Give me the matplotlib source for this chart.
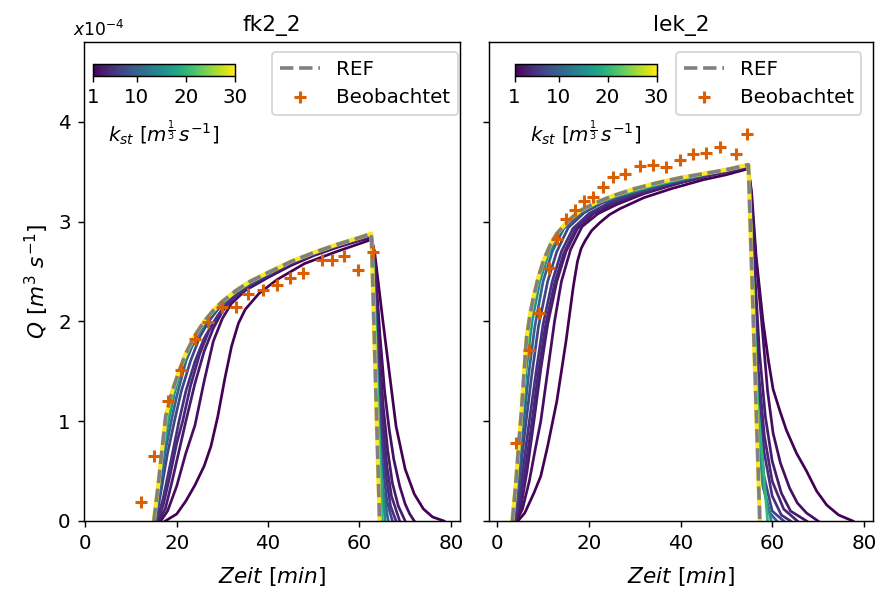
import matplotlib
matplotlib.use("Agg")
import matplotlib.pyplot as plt
from matplotlib import colors, cm

# ---- fk2_2: simulated hydrographs (Q in 1e-4 m3/s) ----
FK_REF_T = [15.0, 16.0, 17.0, 17.6, 19.0, 20.5, 22.0, 24.0, 26.0, 28.0, 30.0, 33.0, 36.0, 40.0, 45.0, 50.0, 55.0, 60.0, 62.6, 64.4]
FK_REF_Q = [0, 0.38, 0.8, 1.05, 1.3, 1.5, 1.68, 1.86, 2.0, 2.11, 2.2, 2.31, 2.4, 2.49, 2.6, 2.69, 2.77, 2.84, 2.88, 0]

FK_K1_T = [17.5, 20, 22, 24, 26, 27.5, 29, 30.5, 32, 33.5, 35, 38, 42, 48, 55, 62.6, 63.3, 65, 66.5, 68, 70, 72, 74, 76, 78.5]
FK_K1_Q = [0, 0.07, 0.2, 0.36, 0.55, 0.75, 1.05, 1.42, 1.75, 1.98, 2.12, 2.28, 2.42, 2.58, 2.7, 2.82, 2.7, 2.05, 1.5, 0.95, 0.52, 0.27, 0.12, 0.04, 0]
FK_K2_T = [16.5, 18, 20, 22, 24, 26, 28, 30, 32, 35, 40, 45, 50, 55, 60, 62.6, 63.3, 64.5, 65.5, 66.5, 67.5, 68.8, 70, 71, 72]
FK_K2_Q = [0, 0.1, 0.35, 0.68, 0.96, 1.4, 1.8, 2.03, 2.18, 2.31, 2.44, 2.56, 2.66, 2.74, 2.81, 2.84, 2.65, 1.85, 1.3, 0.92, 0.62, 0.35, 0.17, 0.07, 0]
FK_K3_T = [16, 17.5, 19, 20.5, 22, 24, 26, 28, 30, 32, 35, 40, 45, 50, 55, 60, 62.6, 63.2, 64.2, 65.2, 66.2, 67.2, 68.5, 70]
FK_K3_Q = [0, 0.12, 0.4, 0.7, 1.0, 1.38, 1.7, 1.93, 2.1, 2.22, 2.34, 2.47, 2.58, 2.67, 2.75, 2.82, 2.86, 2.7, 1.8, 1.15, 0.7, 0.38, 0.15, 0]
FK_K4_T = [15.8, 17, 18.5, 20, 21.3, 23, 25, 27, 29, 31, 34, 38, 45, 50, 55, 60, 62.6, 63.1, 64, 65, 66, 67, 68.8]
FK_K4_Q = [0, 0.15, 0.45, 0.78, 1.0, 1.35, 1.67, 1.9, 2.06, 2.18, 2.3, 2.42, 2.58, 2.67, 2.75, 2.82, 2.86, 2.7, 1.8, 1.05, 0.55, 0.25, 0]
FK_K5_T = [15.6, 17, 18.5, 20.5, 22, 24, 26, 28, 30, 33, 36, 40, 45, 50, 55, 60, 62.6, 63.0, 63.8, 64.8, 65.8, 66.8, 68]
FK_K5_Q = [0, 0.22, 0.55, 1.0, 1.3, 1.6, 1.83, 1.99, 2.12, 2.26, 2.36, 2.46, 2.58, 2.68, 2.76, 2.83, 2.87, 2.7, 1.8, 0.95, 0.45, 0.15, 0]
FK_K7_T = [15.4, 16.5, 18, 19.5, 21, 23, 25, 27, 29, 32, 36, 40, 45, 50, 55, 60, 62.6, 63.0, 64, 65, 66, 67.2]
FK_K7_Q = [0, 0.28, 0.68, 1.0, 1.3, 1.6, 1.84, 2.0, 2.12, 2.26, 2.38, 2.47, 2.59, 2.68, 2.76, 2.83, 2.87, 2.65, 1.45, 0.6, 0.2, 0]
FK_K10_T = [15.2, 16.3, 17.5, 18.8, 20, 22, 24, 26, 28, 30, 33, 36, 40, 45, 50, 55, 60, 62.6, 63.0, 64, 65, 66.3]
FK_K10_Q = [0, 0.32, 0.7, 1.0, 1.25, 1.6, 1.82, 1.97, 2.09, 2.18, 2.29, 2.38, 2.48, 2.59, 2.68, 2.76, 2.83, 2.87, 2.6, 1.2, 0.35, 0]
FK_K15_T = [15.1, 16.2, 17.2, 18.2, 19.5, 21, 23, 25, 27, 29, 32, 36, 40, 45, 50, 55, 60, 62.6, 63.0, 64.0, 65.6]
FK_K15_Q = [0, 0.38, 0.72, 1.0, 1.28, 1.52, 1.76, 1.93, 2.05, 2.15, 2.27, 2.39, 2.48, 2.6, 2.69, 2.77, 2.84, 2.88, 2.55, 1.0, 0]
FK_K20_T = [15.0, 16.0, 17.0, 17.9, 19, 20.5, 22, 24, 26, 28, 30, 33, 36, 40, 45, 50, 55, 60, 62.6, 63.2, 65.0]
FK_K20_Q = [0, 0.36, 0.72, 1.0, 1.25, 1.48, 1.66, 1.85, 1.99, 2.1, 2.19, 2.3, 2.39, 2.49, 2.6, 2.69, 2.77, 2.84, 2.88, 2.3, 0]

FK_OBS_T = [12.2, 15.1, 18.0, 20.9, 24.1, 26.8, 29.9, 33.0, 35.7, 38.8, 41.9, 44.8, 47.6, 51.9, 53.9, 56.6, 59.7, 63.0]
FK_OBS_Q = [0.19, 0.65, 1.20, 1.51, 1.82, 1.99, 2.14, 2.14, 2.27, 2.31, 2.36, 2.44, 2.49, 2.62, 2.62, 2.66, 2.52, 2.70]

# ---- lek_2 ----
LEK_REF_T = [3.3, 4.0, 4.6, 5.2, 5.7, 6.4, 7.2, 7.9, 9.0, 10.1, 11.5, 13.0, 15.5, 18.1, 21.5, 25.3, 30, 35, 40, 45, 50, 54.8, 57.3]
LEK_REF_Q = [0, 0.35, 0.71, 1.05, 1.38, 1.84, 2.08, 2.24, 2.45, 2.61, 2.76, 2.88, 3.01, 3.11, 3.19, 3.26, 3.33, 3.39, 3.44, 3.48, 3.52, 3.57, 0]

LEK_K1_T = [4.5, 6, 8, 9.5, 11, 13, 15, 16.6, 17.5, 18.3, 19.2, 20.6, 22.4, 24.5, 26.8, 32, 38, 45, 50, 54.8, 55.5, 56.5, 58, 59.2, 60.2, 61.7, 63.1, 65.3, 67.5, 69.7, 71.9, 74.5, 77.6]
LEK_K1_Q = [0, 0.08, 0.28, 0.45, 0.75, 1.2, 1.8, 2.35, 2.6, 2.73, 2.81, 2.91, 2.99, 3.07, 3.13, 3.24, 3.33, 3.42, 3.47, 3.53, 3.3, 2.65, 2.0, 1.6, 1.32, 1.1, 0.91, 0.68, 0.5, 0.3, 0.16, 0.06, 0]
LEK_K2_T = [4.2, 5.5, 7, 8.3, 9.5, 11, 12.5, 14, 16, 18.5, 22, 26, 32, 40, 47, 54.8, 55.4, 56.3, 57.7, 59, 60.2, 61.8, 63.8, 65.5, 67.5, 70]
LEK_K2_Q = [0, 0.12, 0.4, 0.72, 1.0, 1.5, 2.0, 2.4, 2.72, 2.95, 3.08, 3.17, 3.28, 3.39, 3.47, 3.54, 3.3, 2.7, 2.0, 1.3, 0.88, 0.58, 0.33, 0.18, 0.08, 0]
LEK_K3_T = [4.0, 5.2, 6.5, 8.0, 9.5, 11, 13, 15, 17.5, 21, 25, 30, 38, 46, 54.8, 55.3, 56.2, 57.2, 58.5, 60, 62, 64, 67.5]
LEK_K3_Q = [0, 0.15, 0.5, 1.0, 1.52, 1.97, 2.4, 2.7, 2.93, 3.08, 3.17, 3.26, 3.37, 3.46, 3.55, 3.3, 2.5, 1.7, 1.05, 0.6, 0.28, 0.1, 0]
LEK_K4_T = [3.9, 5.0, 6.3, 7.6, 9.0, 10.5, 12.5, 14.5, 17, 20, 24, 30, 38, 46, 54.8, 55.2, 56.0, 57.0, 58.3, 60, 62.5, 65.5]
LEK_K4_Q = [0, 0.2, 0.58, 1.0, 1.5, 1.95, 2.38, 2.68, 2.92, 3.07, 3.17, 3.27, 3.37, 3.46, 3.55, 3.3, 2.4, 1.5, 0.85, 0.4, 0.12, 0]
LEK_K5_T = [3.8, 4.8, 6.0, 7.0, 8.5, 10, 12, 14, 16.5, 20, 24, 30, 38, 46, 54.8, 55.2, 56.0, 57.0, 58.2, 60, 62, 64]
LEK_K5_Q = [0, 0.25, 0.65, 1.0, 1.5, 1.97, 2.4, 2.7, 2.93, 3.08, 3.18, 3.28, 3.38, 3.47, 3.56, 3.3, 2.3, 1.35, 0.7, 0.25, 0.06, 0]
LEK_K7_T = [3.6, 4.6, 5.5, 6.3, 7.5, 9, 11, 13, 15.5, 19, 23, 30, 38, 46, 54.8, 55.2, 56.0, 57.0, 58.2, 60, 62.5]
LEK_K7_Q = [0, 0.3, 0.68, 1.0, 1.45, 1.95, 2.4, 2.7, 2.94, 3.09, 3.19, 3.29, 3.39, 3.47, 3.56, 3.25, 2.1, 1.1, 0.45, 0.1, 0]
LEK_K10_T = [3.5, 4.4, 5.1, 5.8, 6.8, 8.2, 10, 12, 14.5, 18, 22, 28, 36, 45, 54.8, 55.1, 55.9, 56.8, 58, 59.5, 61]
LEK_K10_Q = [0, 0.35, 0.7, 1.0, 1.45, 1.95, 2.4, 2.7, 2.93, 3.08, 3.18, 3.28, 3.38, 3.47, 3.56, 3.3, 2.0, 0.95, 0.35, 0.08, 0]
LEK_K15_T = [3.4, 4.2, 4.8, 5.4, 6.3, 7.6, 9.3, 11.2, 13.5, 17, 21.5, 27, 35, 45, 54.8, 55.1, 56.5, 58, 59.8]
LEK_K15_Q = [0, 0.38, 0.72, 1.0, 1.5, 2.0, 2.4, 2.68, 2.9, 3.07, 3.18, 3.27, 3.37, 3.47, 3.57, 3.3, 1.4, 0.35, 0]
LEK_K20_T = [3.35, 4.1, 4.7, 5.2, 6.0, 7.2, 8.8, 10.6, 13.0, 16.5, 21, 26, 33, 42, 54.8, 55.0, 56.8, 59.0]
LEK_K20_Q = [0, 0.4, 0.75, 1.0, 1.5, 2.0, 2.38, 2.66, 2.87, 3.05, 3.18, 3.26, 3.35, 3.45, 3.57, 3.35, 1.2, 0]

LEK_OBS_T = [4.1, 7.0, 9.2, 11.2, 13.1, 15.0, 17.0, 18.9, 20.9, 23.1, 25.2, 27.8, 31.1, 34.0, 36.8, 39.9, 42.8, 45.6, 48.6, 52.0, 54.6]
LEK_OBS_Q = [0.78, 1.71, 2.08, 2.54, 2.83, 3.03, 3.12, 3.21, 3.25, 3.35, 3.45, 3.48, 3.56, 3.57, 3.55, 3.62, 3.68, 3.69, 3.75, 3.68, 3.88]

KST_MIN, KST_MAX = 1, 30
CBAR_TICKS = [1, 10, 20, 30]

# kst=30 run coincides with REF
panels = [
    {
        "title": "fk2_2",
        "runs": [(1, FK_K1_T, FK_K1_Q), (2, FK_K2_T, FK_K2_Q), (3, FK_K3_T, FK_K3_Q),
                 (4, FK_K4_T, FK_K4_Q), (5, FK_K5_T, FK_K5_Q), (7, FK_K7_T, FK_K7_Q),
                 (10, FK_K10_T, FK_K10_Q), (15, FK_K15_T, FK_K15_Q), (20, FK_K20_T, FK_K20_Q),
                 (30, FK_REF_T, FK_REF_Q)],
        "ref": (FK_REF_T, FK_REF_Q),
        "obs": (FK_OBS_T, FK_OBS_Q),
        "leg": (0.994, 0.98),
    },
    {
        "title": "lek_2",
        "runs": [(1, LEK_K1_T, LEK_K1_Q), (2, LEK_K2_T, LEK_K2_Q), (3, LEK_K3_T, LEK_K3_Q),
                 (4, LEK_K4_T, LEK_K4_Q), (5, LEK_K5_T, LEK_K5_Q), (7, LEK_K7_T, LEK_K7_Q),
                 (10, LEK_K10_T, LEK_K10_Q), (15, LEK_K15_T, LEK_K15_Q), (20, LEK_K20_T, LEK_K20_Q),
                 (30, LEK_REF_T, LEK_REF_Q)],
        "ref": (LEK_REF_T, LEK_REF_Q),
        "obs": (LEK_OBS_T, LEK_OBS_Q),
        "leg": (0.97, 0.98),
    },
]

DPI = 130
W, H = 881, 594
fig = plt.figure(figsize=(W / DPI, H / DPI), dpi=DPI)
ax1 = fig.add_axes([83.5 / W, 1 - 521 / H, 376.5 / W, 479 / H])
ax2 = fig.add_axes([489 / W, 1 - 521 / H, 384 / W, 479 / H], sharey=ax1)
axes = [ax1, ax2]
cbar_x = [92.7, 514.5]

norm = colors.Normalize(vmin=KST_MIN, vmax=KST_MAX)
cmap = plt.get_cmap("viridis")

for ax, p, cx in zip(axes, panels, cbar_x):
    for k, t, q in p["runs"]:
        ax.plot(t, q, color=cmap(norm(k)), lw=1.5 if k < 30 else 2.3)
    ax.plot(*p["ref"], "--", color="grey", lw=2, label="REF")
    ax.plot(*p["obs"], "+", color="#d95f02", ms=7, mew=1.7, ls="none", label="Beobachtet")
    ax.set_title(p["title"], fontsize=12)
    ax.set_xlabel(r"$Zeit\ [min]$", fontsize=12, labelpad=7)
    ax.set_xticks([0, 20, 40, 60, 80])
    ax.tick_params(labelsize=11)
    ax.legend(loc="upper right", bbox_to_anchor=p["leg"], borderaxespad=0, fontsize=11)

    cax = fig.add_axes([cx / W, 1 - 75.5 / H, 142 / W, 12 / H])
    sm = cm.ScalarMappable(norm=norm, cmap=cmap)
    cb = fig.colorbar(sm, cax=cax, orientation="horizontal", ticks=CBAR_TICKS)
    cb.ax.tick_params(labelsize=11)
    cb.set_label(r"$k_{st}\ [m^{\frac{1}{3}}\,s^{-1}]$", fontsize=11, labelpad=6)

ax1.set_xlim(-0.4, 82)
ax2.set_xlim(-1.8, 82)
ax1.set_ylim(0, 4.8)
ax1.set_yticks([0, 1, 2, 3, 4])
ax1.set_ylabel(r"$Q\ [m^3\ s^{-1}]$", fontsize=12)
ax2.tick_params(labelleft=False)
ax1.text(0.04, 1.004, r"$x10^{-4}$", transform=ax1.transAxes, ha="center", va="bottom", fontsize=9.5)

fig.savefig("out.png", dpi=DPI)
